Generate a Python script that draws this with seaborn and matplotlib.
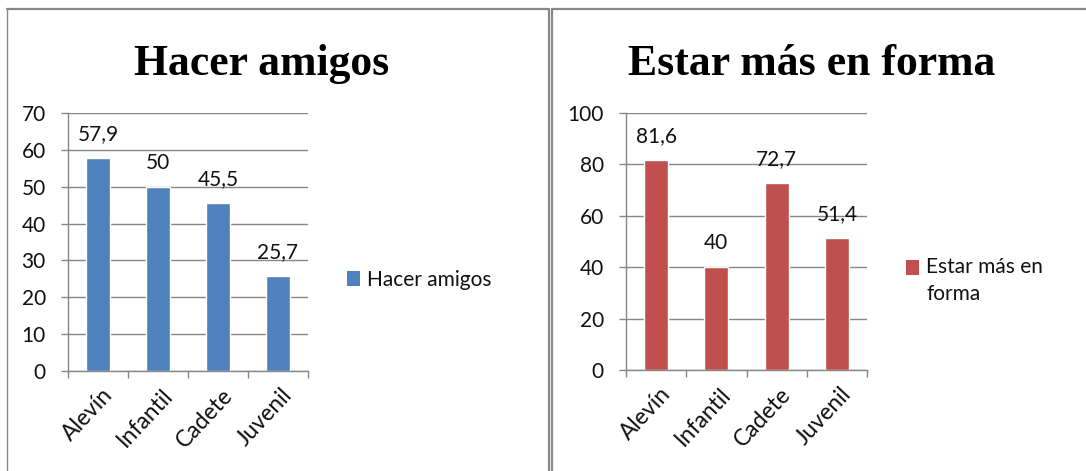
import matplotlib
matplotlib.use("Agg")
import matplotlib.pyplot as plt
import matplotlib.transforms as mtransforms
from matplotlib.patches import Rectangle
from matplotlib.lines import Line2D
from matplotlib.legend_handler import HandlerPatch
import seaborn as sns
import pandas as pd

# Data
categorias = ["Alevín", "Infantil", "Cadete", "Juvenil"]
hacer_amigos = [57.9, 50, 45.5, 25.7]
estar_en_forma = [81.6, 40, 72.7, 51.4]
serie_izq = "Hacer amigos"
serie_der = "Estar más en forma"
yticks_izq = [0, 10, 20, 30, 40, 50, 60, 70]
yticks_der = [0, 20, 40, 60, 80, 100]

AZUL = "#4F81BD"
ROJO = "#C0504D"
GRIS = "#868686"
FUENTE = "Lato"
TAM = 15

sns.set_theme(style="white")
plt.rcParams["font.family"] = [FUENTE, "DejaVu Sans"]

fig = plt.figure(figsize=(10.86, 4.71), dpi=100)
W, H = 1086, 471


def fbox(x0, x1, ytop, ybot):
    return [x0 / W, 1 - ybot / H, (x1 - x0) / W, (ybot - ytop) / H]


def cuadro_arriba(legend, orig_handle, xdescent, ydescent, width, height, fontsize):
    # legend swatch sitting level with the first line of the label
    alto = 0.72 * fontsize
    return Rectangle((-xdescent, -ydescent + height - alto + 0.22 * fontsize), width, alto)


def panel(ax, valores, serie, color, yticks, titulo, titulo_x, leg_x, leg_y, etiqueta_leg,
          lineas=1):
    df = pd.DataFrame({"categoria": categorias, "valor": valores, "serie": serie})
    sns.barplot(data=df, x="categoria", y="valor", hue="serie", palette=[color],
                width=0.4, ax=ax, saturation=1, legend=False)
    ax.set_xlim(-0.5, len(categorias) - 0.5)
    ax.set_ylim(yticks[0], yticks[-1])
    ax.set_yticks(yticks)
    ax.set_yticklabels([str(t) for t in yticks], fontsize=TAM, color="#111111")
    ax.set_xlabel("")
    ax.set_ylabel("")
    ax.set_axisbelow(True)
    ax.yaxis.grid(True, color=GRIS, linewidth=1.0)
    ax.xaxis.grid(False)
    for s in ["top", "right"]:
        ax.spines[s].set_visible(False)
    for s in ["left", "bottom"]:
        ax.spines[s].set_color(GRIS)
        ax.spines[s].set_linewidth(1.0)
    ax.tick_params(axis="y", which="major", direction="out", length=5, width=1.0,
                   color=GRIS, pad=11, left=True)
    # category boundary tick marks on the x axis
    ax.set_xticks([i - 0.5 for i in range(len(categorias) + 1)], minor=True)
    ax.tick_params(axis="x", which="minor", direction="out", length=5, width=1.0,
                   color=GRIS, bottom=True)
    ax.tick_params(axis="x", which="major", length=0, pad=15)
    ax.set_xticks(range(len(categorias)))
    ax.set_xticklabels(categorias, rotation=47, ha="right", va="center",
                       rotation_mode="anchor", fontsize=16.5, color="#111111")
    desplaza = mtransforms.ScaledTranslation(11 / 100, 0, fig.dpi_scale_trans)
    for lab in ax.get_xticklabels():
        lab.set_transform(lab.get_transform() + desplaza)
    # value labels
    cont = ax.containers[0]
    ax.bar_label(cont, labels=[f"{v:g}".replace(".", ",") for v in valores],
                 padding=10, fontsize=TAM, color="#111111")
    # title
    fig.text(titulo_x / W, 1 - 75 / H, titulo, ha="center", va="baseline",
             family=["Liberation Serif"], fontweight="bold", fontsize=31.5, color="black")
    # legend
    handle = Rectangle((0, 0), 1, 1, facecolor=color, edgecolor="none")
    alto = 0.72 if lineas == 1 else 0.72 + 1.45 * (lineas - 1)
    mapa = {} if lineas == 1 else {Rectangle: HandlerPatch(patch_func=cuadro_arriba)}
    leg = ax.legend([handle], [etiqueta_leg], loc="upper left",
                    bbox_to_anchor=(leg_x / W, 1 - leg_y / H),
                    bbox_transform=fig.transFigure,
                    frameon=False, fontsize=TAM, handlelength=0.63, handleheight=alto,
                    handletextpad=0.35, borderpad=0, borderaxespad=0,
                    labelcolor="#111111", handler_map=mapa)
    for t in leg.get_texts():
        t.set_linespacing(1.45)


ax1 = fig.add_axes(fbox(68, 308, 113, 371))
panel(ax1, hacer_amigos, serie_izq, AZUL, yticks_izq, "Hacer amigos", 262, 347, 270,
      serie_izq)

ax2 = fig.add_axes(fbox(626, 867, 113, 370))
panel(ax2, estar_en_forma, serie_der, ROJO, yticks_der, "Estar más en forma", 812, 906, 257,
      "Estar más en\nforma", lineas=2)

# panel frames
BORDE = "#888888"
fig.add_artist(Line2D([7 / W, 7 / W], [0, 1 - 8 / H], color=BORDE, lw=1.0,
                      transform=fig.transFigure))
fig.add_artist(Line2D([7 / W, 549 / W], [1 - 9 / H, 1 - 9 / H], color=BORDE, lw=1.6,
                      transform=fig.transFigure))
fig.add_artist(Line2D([549 / W, 549 / W], [0, 1 - 9 / H], color=BORDE, lw=1.6,
                      transform=fig.transFigure))
fig.add_artist(Line2D([552 / W, 552 / W], [0, 1 - 9 / H], color=BORDE, lw=1.6,
                      transform=fig.transFigure))
fig.add_artist(Line2D([552 / W, 1], [1 - 9 / H, 1 - 9 / H], color=BORDE, lw=1.6,
                      transform=fig.transFigure))

fig.savefig("out.png", dpi=100)
